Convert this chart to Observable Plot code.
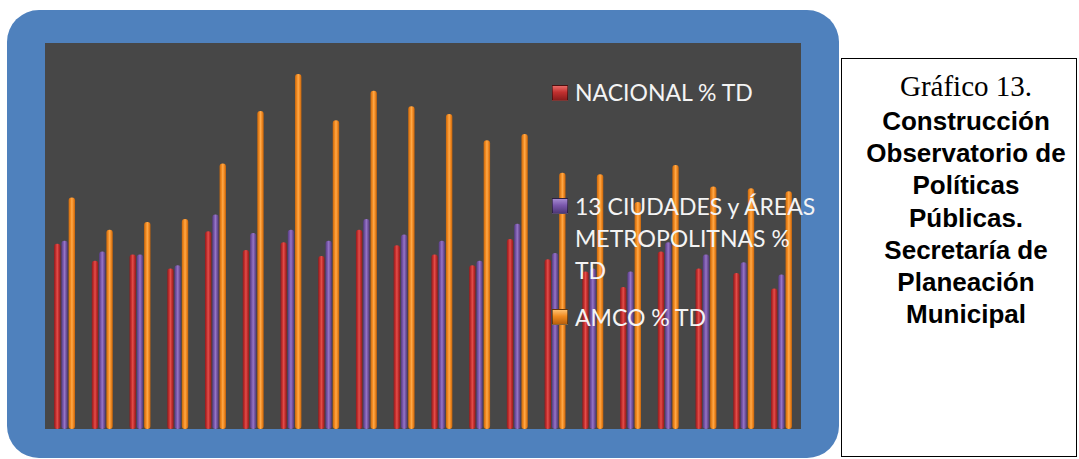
<!DOCTYPE html>
<html>
<head>
<meta charset="utf-8">
<script src="https://cdn.jsdelivr.net/npm/d3@7"></script>
<script src="https://cdn.jsdelivr.net/npm/@observablehq/plot@0.6"></script>
<style>
  html, body { margin: 0; padding: 0; background: #ffffff; }
  #page { position: relative; width: 1079px; height: 459px; overflow: hidden; }
  #blue { position: absolute; left: 7px; top: 10px; width: 832px; height: 448px; background: #4f81bd; border-radius: 32px; }
  #chart { position: absolute; left: 45px; top: 43px; width: 756px; height: 386px; }
  .lg { position: absolute; font-family: Lato, "Open Sans", sans-serif; font-size: 23px; color: #f4f4f4; line-height: 32px; white-space: nowrap; }
  .mk { position: absolute; width: 14px; height: 14px; border: 1px solid rgba(0,0,0,0.45); }
  #box { position: absolute; left: 841px; top: 58px; width: 236px; height: 399px; border: 1px solid #000; box-sizing: border-box; }
  .cap { position: absolute; left: 846px; width: 240px; text-align: center; white-space: nowrap; color: #000; }
  .serif { font-family: "Liberation Serif", "DejaVu Serif", serif; font-size: 29px; }
  .bold { font-family: "Liberation Sans", Arial, sans-serif; font-weight: bold; font-size: 26px; }
</style>
</head>
<body>
<div id="page">
  <div id="blue"></div>
  <div id="chart"></div>
  <div id="legend"></div>
  <div id="box"></div>
  <div id="caption"></div>
</div>
<script>
// Periods (no labels are shown in the original chart)
const periods = ["1","2","3","4","5","6","7","8","9","10","11","12","13","14","15","16","17","18","19","20"];
const seriesNames = ["NACIONAL % TD", "13 CIUDADES y ÁREAS METROPOLITNAS % TD", "AMCO % TD"];
const nacional  = [12.0, 10.9, 11.3, 10.4, 12.8, 11.6, 12.1, 11.2, 12.9, 11.9, 11.3, 10.6, 12.3, 11.0, 10.2, 9.2, 11.5, 10.4, 10.1, 9.1];
const ciudades  = [12.2, 11.5, 11.3, 10.6, 13.9, 12.7, 12.9, 12.2, 13.6, 12.6, 12.2, 10.9, 13.3, 11.4, 10.4, 10.2, 12.1, 11.3, 10.8, 10.0];
const amco      = [15.0, 12.9, 13.4, 13.6, 17.2, 20.6, 23.0, 20.0, 21.9, 20.9, 20.4, 18.7, 19.1, 16.6, 16.5, 14.7, 17.1, 15.7, 15.6, 15.4];
const legendLines = [["NACIONAL % TD"], ["13 CIUDADES y ÁREAS", "METROPOLITNAS %", "TD"], ["AMCO % TD"]];
const captionSerif = "Gráfico 13.";
const captionBold = ["Construcción", "Observatorio de", "Políticas", "Públicas.", "Secretaría de", "Planeación", "Municipal"];

const valuesBySeries = [nacional, ciudades, amco];
const data = periods.flatMap((p, i) => seriesNames.map((s, k) => ({period: p, serie: s, value: valuesBySeries[k][i]})));

const gradIds = ["gRed", "gPurple", "gOrange"];
const gradStops = [
  ["#8e1c1e", "#c8302f", "#e2504c", "#c42e2e", "#921c1c"],
  ["#553c80", "#7a58ac", "#9676c6", "#7655a2", "#513874"],
  ["#c8680e", "#f28a20", "#ffaa4a", "#f28a22", "#c4640c"]
];

const chart = Plot.plot({
  width: 756,
  height: 386,
  margin: 0,
  style: {background: "#474747", overflow: "hidden"},
  fx: {domain: periods, paddingInner: 0.444, paddingOuter: 0.24, round: false, axis: null, label: null},
  x: {domain: seriesNames, paddingInner: 0.12, paddingOuter: 0, round: false, axis: null},
  y: {domain: [0, 25], axis: null},
  color: {domain: seriesNames, range: gradIds.map(id => `url(#${id})`)},
  marks: [
    Plot.barY(data, {fx: "period", x: "serie", y: "value", fill: "serie", rx: 3})
  ]
});

// gradient defs for the cylinder look
const ns = "http://www.w3.org/2000/svg";
const defs = document.createElementNS(ns, "defs");
gradIds.forEach((id, k) => {
  const g = document.createElementNS(ns, "linearGradient");
  g.setAttribute("id", id);
  g.setAttribute("x1", "0"); g.setAttribute("x2", "1"); g.setAttribute("y1", "0"); g.setAttribute("y2", "0");
  const offs = [0, 0.3, 0.5, 0.72, 1];
  gradStops[k].forEach((c, j) => {
    const st = document.createElementNS(ns, "stop");
    st.setAttribute("offset", offs[j]);
    st.setAttribute("stop-color", c);
    g.appendChild(st);
  });
  defs.appendChild(g);
});
chart.insertBefore(defs, chart.firstChild);
document.getElementById("chart").appendChild(chart);

// legend (overlaid on the plot, as in the original)
const legend = document.getElementById("legend");
const markerBg = [
  "linear-gradient(to bottom, #e86a66 0%, #c0302f 45%, #8a1c1c 100%)",
  "linear-gradient(to bottom, #a48ad0 0%, #7a58ac 45%, #4e3878 100%)",
  "linear-gradient(to bottom, #ffc070 0%, #f08a20 45%, #b8600c 100%)"
];
const itemTops = [76, 190, 301];
const markerTops = [85, 198, 309];
legendLines.forEach((lines, k) => {
  const m = document.createElement("div");
  m.className = "mk";
  m.style.left = "552px";
  m.style.top = markerTops[k] + "px";
  m.style.background = markerBg[k];
  legend.appendChild(m);
  lines.forEach((t, j) => {
    const d = document.createElement("div");
    d.className = "lg";
    d.style.left = "575px";
    d.style.top = (itemTops[k] + j * 32) + "px";
    d.textContent = t;
    legend.appendChild(d);
  });
});

// caption box text
const cap = document.getElementById("caption");
const s = document.createElement("div");
s.className = "cap serif";
s.style.top = "70px";
s.textContent = captionSerif;
cap.appendChild(s);
captionBold.forEach((t, j) => {
  const d = document.createElement("div");
  d.className = "cap bold";
  d.style.top = (106 + j * 32.2) + "px";
  d.textContent = t;
  cap.appendChild(d);
});
</script>
</body>
</html>
